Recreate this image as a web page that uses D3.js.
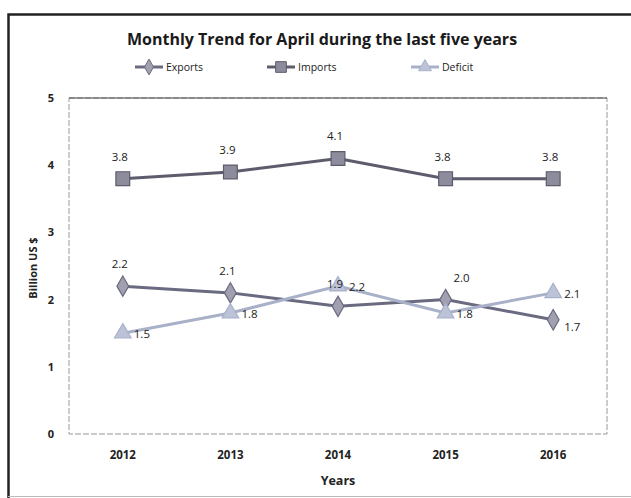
<!DOCTYPE html>
<html lang="en">
<head>
<meta charset="UTF-8">
<script src="https://cdn.jsdelivr.net/npm/d3@7"></script>
<title>Monthly Trend for April</title>
<style>
    body { margin: 0; background: white; }
    svg { display: block; }
    text { font-family: "Open Sans", sans-serif; }
</style>
</head>
<body>
<script>
    // ---------------- data ----------------
    const years = ["2012", "2013", "2014", "2015", "2016"];
    const exports = [2.2, 2.1, 1.9, 2.0, 1.7];
    const imports = [3.8, 3.9, 4.1, 3.8, 3.8];
    const deficit = [1.5, 1.8, 2.2, 1.8, 2.1];
    const yTicks = [0, 1, 2, 3, 4, 5];

    const W = 631, H = 498;
    const plot = { left: 69, right: 607, top: 98, bottom: 434 };

    const svg = d3.select("body").append("svg")
        .attr("width", W).attr("height", H);

    // outer frame (scanned border, left + top)
    svg.append("path")
        .attr("d", "M8.5,498 L8.5,14.5 L631,14.5")
        .attr("fill", "none").attr("stroke", "#222").attr("stroke-width", 2.5);
    svg.append("line")
        .attr("x1", 8).attr("x2", 631).attr("y1", 496.5).attr("y2", 496.5)
        .attr("stroke", "#bbb").attr("stroke-width", 1);

    // ---------------- scales ----------------
    const x = d3.scaleBand().domain(years).range([plot.left, plot.right]);
    const y = d3.scaleLinear().domain([0, 5]).range([plot.bottom, plot.top]);
    const cx = d => x(d) + x.bandwidth() / 2;

    // plot area border
    svg.append("rect")
        .attr("x", plot.left).attr("y", plot.top)
        .attr("width", plot.right - plot.left).attr("height", plot.bottom - plot.top)
        .attr("fill", "none").attr("stroke", "#999").attr("stroke-width", 1)
        .attr("stroke-dasharray", "6,2");
    svg.append("line")
        .attr("x1", plot.left).attr("x2", plot.right)
        .attr("y1", plot.top).attr("y2", plot.top)
        .attr("stroke", "#444").attr("stroke-width", 1.2);

    // y tick labels
    svg.append("g").selectAll("text")
        .data(yTicks).enter().append("text")
        .attr("x", 51).attr("y", d => y(d) + 4)
        .attr("text-anchor", "middle")
        .attr("font-size", 11).attr("font-weight", "bold").attr("fill", "#222")
        .text(d => d);

    // x tick labels
    svg.append("g").selectAll("text")
        .data(years).enter().append("text")
        .attr("x", d => cx(d)).attr("y", 459)
        .attr("text-anchor", "middle")
        .attr("font-size", 11.5).attr("font-weight", "bold").attr("fill", "#222")
        .text(d => d);

    // axis titles
    svg.append("text")
        .attr("x", 338).attr("y", 485).attr("text-anchor", "middle")
        .attr("font-size", 12.5).attr("font-weight", "bold").attr("fill", "#222")
        .text("Years");
    svg.append("text")
        .attr("transform", "translate(37,268) rotate(-90)")
        .attr("text-anchor", "middle")
        .attr("font-size", 11).attr("font-weight", "bold").attr("fill", "#222")
        .text("Billion US $");

    // title
    svg.append("text")
        .attr("x", 322).attr("y", 45).attr("text-anchor", "middle")
        .attr("font-size", 16).attr("font-weight", "bold").attr("fill", "#1a1a1a")
        .text("Monthly Trend for April during the last five years");

    // ---------------- series ----------------
    // label placement per point: "above", "aboveRight" or "right"
    const series = [
        { name: "Exports", values: exports, color: "#6a6a80", fill: "#a0a0b0", shape: d3.symbolDiamond, size: 120,
          place: ["above", "above", "above", "aboveRight", "right"] },
        { name: "Imports", values: imports, color: "#5c5c6c", fill: "#8c8c9c", shape: d3.symbolSquare, size: 190,
          place: ["above", "above", "above", "above", "above"] },
        { name: "Deficit", values: deficit, color: "#a9b1c9", fill: "#bcc3d8", shape: d3.symbolTriangle, size: 120,
          place: ["right", "right", "right", "right", "right"] }
    ];

    const line = d3.line().x(d => cx(d.year)).y(d => y(d.v));

    series.forEach(s => {
        const pts = years.map((yr, i) => ({ year: yr, v: s.values[i] }));
        svg.append("path")
            .datum(pts)
            .attr("d", line)
            .attr("fill", "none").attr("stroke", s.color).attr("stroke-width", 3);
        svg.append("g").selectAll("path")
            .data(pts).enter().append("path")
            .attr("transform", d => `translate(${cx(d.year)},${y(d.v)})`)
            .attr("d", d3.symbol().type(s.shape).size(s.size))
            .attr("fill", s.fill).attr("stroke", s.color).attr("stroke-width", 1.2);
    });

    // data labels
    const dx = { above: -3, aboveRight: 16, right: 11 };
    const dy = { above: -18, aboveRight: -18, right: 5 };
    series.forEach(s => {
        svg.append("g").selectAll("text")
            .data(years.map((yr, i) => ({ year: yr, v: s.values[i], p: s.place[i] })))
            .enter().append("text")
            .attr("x", d => cx(d.year) + dx[d.p])
            .attr("y", d => y(d.v) + dy[d.p] + (d.p === "right" && s.name === "Exports" ? 6 : 0))
            .attr("text-anchor", d => d.p === "right" ? "start" : "middle")
            .attr("font-size", 11.5).attr("fill", "#222")
            .text(d => d.v.toFixed(1));
    });

    // ---------------- legend ----------------
    const legendX = [135, 267, 411];
    series.forEach((s, i) => {
        const g = svg.append("g").attr("transform", `translate(${legendX[i]},67)`);
        g.append("line").attr("x1", 0).attr("x2", 28).attr("y1", 0).attr("y2", 0)
            .attr("stroke", s.color).attr("stroke-width", 3);
        g.append("path").attr("transform", "translate(14,0)")
            .attr("d", d3.symbol().type(s.shape).size(s.size * 0.6))
            .attr("fill", s.fill).attr("stroke", s.color).attr("stroke-width", 1);
        g.append("text").attr("x", 31).attr("y", 4)
            .attr("font-size", 10.5).attr("fill", "#222")
            .text(s.name);
    });
</script>
</body>
</html>
